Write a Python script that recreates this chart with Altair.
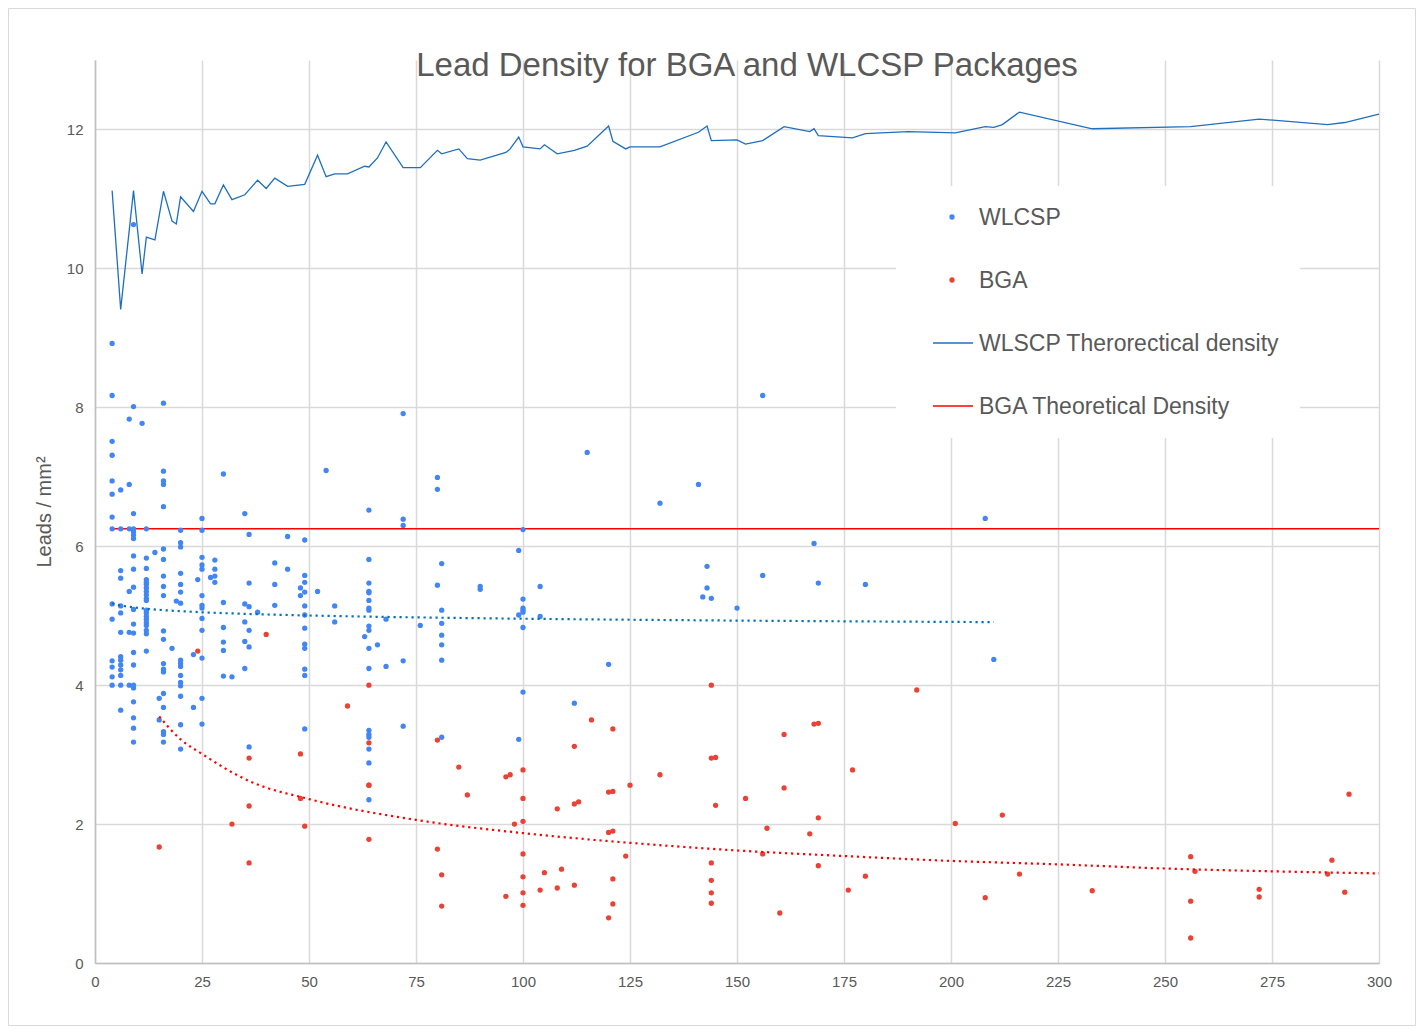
import altair as alt
import pandas as pd

# ---------------- data ----------------
wlcsp_x = [4, 4, 4, 4, 4, 4, 4, 4, 4, 4, 4, 4, 4, 4,
           6, 6, 6, 6, 6, 6, 6, 6, 6, 6, 6, 6, 6, 6,
           8, 8, 8, 8, 8, 8,
           9, 9, 9, 9, 9, 9, 9, 9, 9, 9, 9, 9, 9, 9, 9, 9, 9, 9, 9, 9, 9,
           11,
           12, 12, 12, 12, 12, 12, 12, 12, 12, 12, 12, 12, 12, 12, 12, 12, 12, 12, 12, 12,
           14, 15, 15,
           16, 16, 16, 16, 16, 16, 16, 16, 16, 16, 16, 16, 16, 16, 16, 16, 16, 16, 16, 16,
           18, 19,
           20, 20, 20, 20, 20, 20, 20, 20, 20, 20, 20, 20, 20, 20, 20, 20,
           23, 23, 24,
           25, 25, 25, 25, 25, 25, 25, 25, 25, 25, 25, 25, 25,
           27, 28, 28, 28, 28,
           30, 30, 30, 30, 30, 30, 32,
           35, 35, 35, 35, 35,
           36, 36, 36, 36, 36, 36,
           38, 42, 42, 42, 45, 45, 48, 48,
           49, 49, 49, 49, 49, 49, 49, 49, 49, 49, 49, 49,
           52, 54, 56, 56, 63,
           64, 64, 64, 64, 64, 64, 64, 64, 64, 64, 64, 64, 64, 64, 64, 64, 64, 64,
           66, 68, 68, 72, 72, 72, 72, 72, 76, 80, 80, 80,
           81, 81, 81, 81, 81, 81, 81,
           90, 90, 99, 99, 99,
           100, 100, 100, 100, 100, 100, 100,
           104, 104, 112, 115, 120, 132, 141, 142, 143, 143, 144, 150,
           156, 156, 168, 169, 180, 208, 210]
wlcsp_y = [8.92, 8.17, 7.51, 7.31, 6.94, 6.75, 6.42, 6.25, 5.17, 4.95, 4.35, 4.26, 4.12, 4.00,
           6.81, 6.25, 5.65, 5.54, 5.14, 5.04, 4.76, 4.41, 4.36, 4.29, 4.22, 4.14, 4.00, 3.64,
           7.83, 6.89, 6.25, 5.35, 4.76, 4.00,
           10.63, 8.01, 6.47, 6.25, 6.21, 6.16, 6.11, 5.86, 5.67, 5.41, 5.09, 4.88, 4.75, 4.47, 4.29, 4.00, 3.96, 3.76, 3.53, 3.38, 3.18,
           7.77,
           6.25, 5.83, 5.68, 5.52, 5.48, 5.45, 5.40, 5.35, 5.30, 5.25, 5.22, 5.08, 5.04, 4.99, 4.95, 4.90, 4.86, 4.79, 4.74, 4.49,
           5.91, 3.81, 3.50,
           8.06, 7.08, 6.94, 6.89, 6.57, 5.96, 5.81, 5.57, 5.42, 5.29, 4.78, 4.66, 4.31, 4.23, 4.19, 3.88, 3.68, 3.33, 3.29, 3.18,
           4.53, 5.21,
           6.23, 6.05, 5.99, 5.61, 5.45, 5.34, 5.18, 4.36, 4.31, 4.27, 4.14, 4.04, 3.99, 3.84, 3.43, 3.08,
           4.44, 3.68, 5.52,
           6.40, 6.23, 5.84, 5.73, 5.67, 5.29, 5.15, 5.11, 4.96, 4.79, 4.39, 3.81, 3.44,
           5.55, 5.80, 5.67, 5.57, 5.48,
           7.04, 5.19, 4.83, 4.62, 4.50, 4.13, 4.12,
           6.47, 5.17, 4.91, 4.63, 4.24,
           6.17, 5.47, 5.13, 4.79, 4.55, 3.11,
           5.05, 5.76, 5.45, 5.15, 6.14, 5.67, 5.40, 5.29,
           6.09, 5.58, 5.48, 5.34, 5.14, 5.01, 4.82, 4.59, 4.53, 4.23, 4.14, 3.37,
           5.35, 7.09, 5.14, 4.91, 4.70,
           6.52, 5.81, 5.47, 5.35, 5.33, 5.22, 5.11, 5.08, 4.85, 4.79, 4.53, 4.24, 3.35, 3.29, 3.25, 3.08, 2.88, 2.35,
           4.58, 4.95, 4.27, 7.91, 6.39, 6.30, 4.35, 3.41, 4.86, 6.99, 6.82, 5.44,
           5.75, 5.08, 4.89, 4.72, 4.58, 4.36, 3.25,
           5.42, 5.38, 5.94, 5.01, 3.22,
           6.24, 5.24, 5.11, 5.08, 5.05, 4.83, 3.90,
           5.42, 4.99, 3.74, 7.35, 4.30, 6.62, 6.89, 5.27, 5.71, 5.40, 5.25, 5.11,
           8.17, 5.58, 6.04, 5.47, 5.45, 6.40, 4.37]

bga_x = [15, 24, 32, 36, 36, 36, 40, 48, 48, 49, 59,
         64, 64, 64, 64, 64, 80, 80, 81, 81, 85, 87, 96, 96, 97, 98,
         100, 100, 100, 100, 100, 100, 100, 104, 105, 108, 108, 109,
         112, 112, 112, 113, 116, 120, 120, 120, 121, 121, 121, 121, 121,
         124, 125, 132, 144, 144, 144, 144, 144, 144, 145, 145, 152,
         156, 157, 160, 161, 161, 167, 168, 169, 169, 169, 176, 177, 180,
         192, 201, 208, 212, 216, 233, 256, 256, 256, 257, 272, 272,
         288, 289, 292, 293]
bga_y = [1.67, 4.49, 2.00, 2.95, 2.26, 1.44, 4.73, 3.01, 2.37, 1.97, 3.70,
         4.00, 3.17, 2.56, 2.56, 1.78, 3.21, 1.64, 1.27, 0.82, 2.82, 2.42, 2.68, 0.96, 2.71, 2.00,
         2.78, 2.37, 2.04, 1.57, 1.24, 1.01, 0.83, 1.05, 1.30, 2.22, 1.08, 1.35,
         3.12, 2.29, 1.12, 2.32, 3.50, 2.46, 1.88, 0.65, 3.37, 2.47, 1.90, 1.21, 0.85,
         1.54, 2.56, 2.71, 4.00, 2.95, 1.44, 1.19, 1.01, 0.86, 2.96, 2.27, 2.37,
         1.57, 1.94, 0.72, 3.29, 2.52, 1.86, 3.44, 3.45, 2.09, 1.40, 1.05, 2.78, 1.25,
         3.93, 2.01, 0.94, 2.13, 1.28, 1.04, 1.53, 0.89, 0.36, 1.32, 1.06, 0.95,
         1.28, 1.48, 1.02, 2.43]

theory_x = [4, 6, 9, 11, 12, 14, 16, 18, 19, 20, 23, 25, 27, 28, 30, 32, 35, 36, 38, 40,
            42, 45, 49, 52, 54, 56, 59, 63, 64, 66, 68, 72, 76, 80, 81, 85, 87, 90, 96, 97,
            99, 100, 104, 105, 108, 112, 115, 120, 121, 124, 125, 132, 141, 143, 144, 150,
            152, 156, 161, 167, 168, 169, 177, 180, 190, 201, 208, 210, 212, 216, 233, 256,
            272, 288, 292, 300]
theory_y = [11.12, 9.41, 11.12, 9.92, 10.45, 10.41, 11.11, 10.68, 10.64, 11.03, 10.82, 11.11,
            10.93, 10.93, 11.20, 10.99, 11.06, 11.13, 11.27, 11.15, 11.30, 11.18, 11.21, 11.63,
            11.32, 11.36, 11.36, 11.47, 11.46, 11.59, 11.82, 11.45, 11.45, 11.70, 11.65, 11.72,
            11.58, 11.56, 11.67, 11.72, 11.89, 11.75, 11.72, 11.78, 11.65, 11.70, 11.76, 12.05,
            11.83, 11.72, 11.75, 11.75, 11.96, 12.05, 11.84, 11.85, 11.79, 11.84, 12.04, 11.97,
            12.01, 11.91, 11.88, 11.94, 11.97, 11.95, 12.04, 12.03, 12.07, 12.25, 12.01, 12.04,
            12.15, 12.07, 12.10, 12.22]

bga_theory_x = [4, 300]
bga_theory_y = [6.25, 6.25]

# BGA trendline as drawn in the reference
bga_trend_x = [15, 20, 25, 36, 50, 75, 100, 125, 150, 175, 200, 225, 250, 275, 300]
bga_trend_y = [3.55, 3.22, 3.01, 2.62, 2.36, 2.06, 1.87, 1.73, 1.62, 1.54, 1.47, 1.42, 1.36, 1.32, 1.29]

legend_labels = ["WLCSP", "BGA", "WLSCP Therorectical density", "BGA Theoretical Density"]
title_text = "Lead Density for BGA and WLCSP Packages"
x_ticks = [0, 25, 50, 75, 100, 125, 150, 175, 200, 225, 250, 275, 300]
y_ticks = [0, 2, 4, 6, 8, 10, 12]

# ---------------- styling ----------------
W, H = 1284, 903
PAD = {"left": 87, "top": 52, "right": 37, "bottom": 63}
FONT = "Liberation Sans"
TXT = "#595959"
BLUE_PT = "#4285F4"
RED_PT = "#EA4335"
BLUE_LN = "#1F6FBF"
RED_LN = "#FF0000"

wl_df = pd.DataFrame({"x": wlcsp_x, "y": wlcsp_y})
bga_df = pd.DataFrame({"x": bga_x, "y": bga_y})
th_df = pd.DataFrame({"x": theory_x, "y": theory_y})
bth_df = pd.DataFrame({"x": bga_theory_x, "y": bga_theory_y})
btr_df = pd.DataFrame({"x": bga_trend_x, "y": bga_trend_y})
one = pd.DataFrame({"k": [0]})

xs = alt.Scale(domain=[0, 300], nice=False, zero=False)
ys = alt.Scale(domain=[0, 13], nice=False, zero=True)
xa = alt.Axis(values=x_ticks, grid=True, gridColor="#D9D9D9", gridWidth=1.5,
              domainColor="#BFBFBF", domainWidth=1.5, ticks=False,
              labelFontSize=15, labelColor=TXT, labelFont=FONT, labelPadding=11,
              labelFlush=False)
ya = alt.Axis(values=y_ticks, grid=True, gridColor="#D9D9D9", gridWidth=1.5,
              domainColor="#BFBFBF", domainWidth=1.5, ticks=False,
              labelFontSize=15, labelColor=TXT, labelFont=FONT, labelPadding=12,
              title="Leads / mm²", titleFontSize=20, titleFont=FONT,
              titleFontWeight="normal", titleColor=TXT, titlePadding=12)
X = alt.X("x:Q", scale=xs, axis=xa, title=None)
Y = alt.Y("y:Q", scale=ys, axis=ya, title="Leads / mm²")

border = alt.Chart(one).mark_rect(fillOpacity=0, stroke="#D9D9D9", strokeWidth=1).encode(
    x=alt.value(-PAD["left"] + 0.5), x2=alt.value(W + PAD["right"] - 0.5),
    y=alt.value(-PAD["top"] + 0.5), y2=alt.value(H + PAD["bottom"] - 0.5))

theory = alt.Chart(th_df).mark_line(color=BLUE_LN, strokeWidth=1.3).encode(x=X, y=Y)
bga_theory = alt.Chart(bth_df).mark_line(color=RED_LN, strokeWidth=1.5).encode(x=X, y=Y)

wl_pts = alt.Chart(wl_df).mark_circle(color=BLUE_PT, size=28, opacity=1).encode(x=X, y=Y)
bga_pts = alt.Chart(bga_df).mark_circle(color=RED_PT, size=28, opacity=1).encode(x=X, y=Y)

wl_trend = alt.Chart(wl_df).transform_regression(
    "x", "y", method="pow").mark_line(
    color="#0070C0", strokeWidth=2.2, strokeDash=[2.2, 3.8]).encode(x=X, y=Y)
bga_trend = alt.Chart(btr_df).mark_line(
    color=RED_LN, strokeWidth=2.2, strokeDash=[2.2, 3.8], interpolate="monotone").encode(x=X, y=Y)

title = alt.Chart(one).mark_text(text=title_text, fontSize=33, font=FONT, color=TXT,
                                 align="center", baseline="middle").encode(
    x=alt.value(652), y=alt.value(6))

# legend (drawn as marks)
leg_bg = alt.Chart(one).mark_rect(fill="white").encode(
    x=alt.value(801), x2=alt.value(1205), y=alt.value(126), y2=alt.value(378))
leg_rows = [157, 220, 283, 346]
leg_layers = [leg_bg]
for i, lab in enumerate(legend_labels):
    yy = leg_rows[i]
    if i < 2:
        leg_layers.append(alt.Chart(one).mark_circle(
            color=[BLUE_PT, RED_PT][i], size=28, opacity=1).encode(
            x=alt.value(857), y=alt.value(yy)))
    else:
        leg_layers.append(alt.Chart(one).mark_rule(
            color=[BLUE_LN, RED_LN][i - 2], strokeWidth=1.5).encode(
            x=alt.value(838), x2=alt.value(878), y=alt.value(yy)))
    leg_layers.append(alt.Chart(one).mark_text(
        text=lab, fontSize=23, font=FONT, color=TXT, align="left",
        baseline="middle").encode(x=alt.value(884), y=alt.value(yy + 1)))

chart = alt.layer(
    theory, bga_theory, wl_pts, bga_pts, wl_trend, bga_trend,
    *leg_layers, title, border
).properties(
    width=W, height=H,
    autosize=alt.AutoSizeParams(type="none"),
    padding=PAD,
    background="white",
).configure_view(stroke=None)

chart.save("out.html", embed_options={"renderer": "svg", "actions": False})
